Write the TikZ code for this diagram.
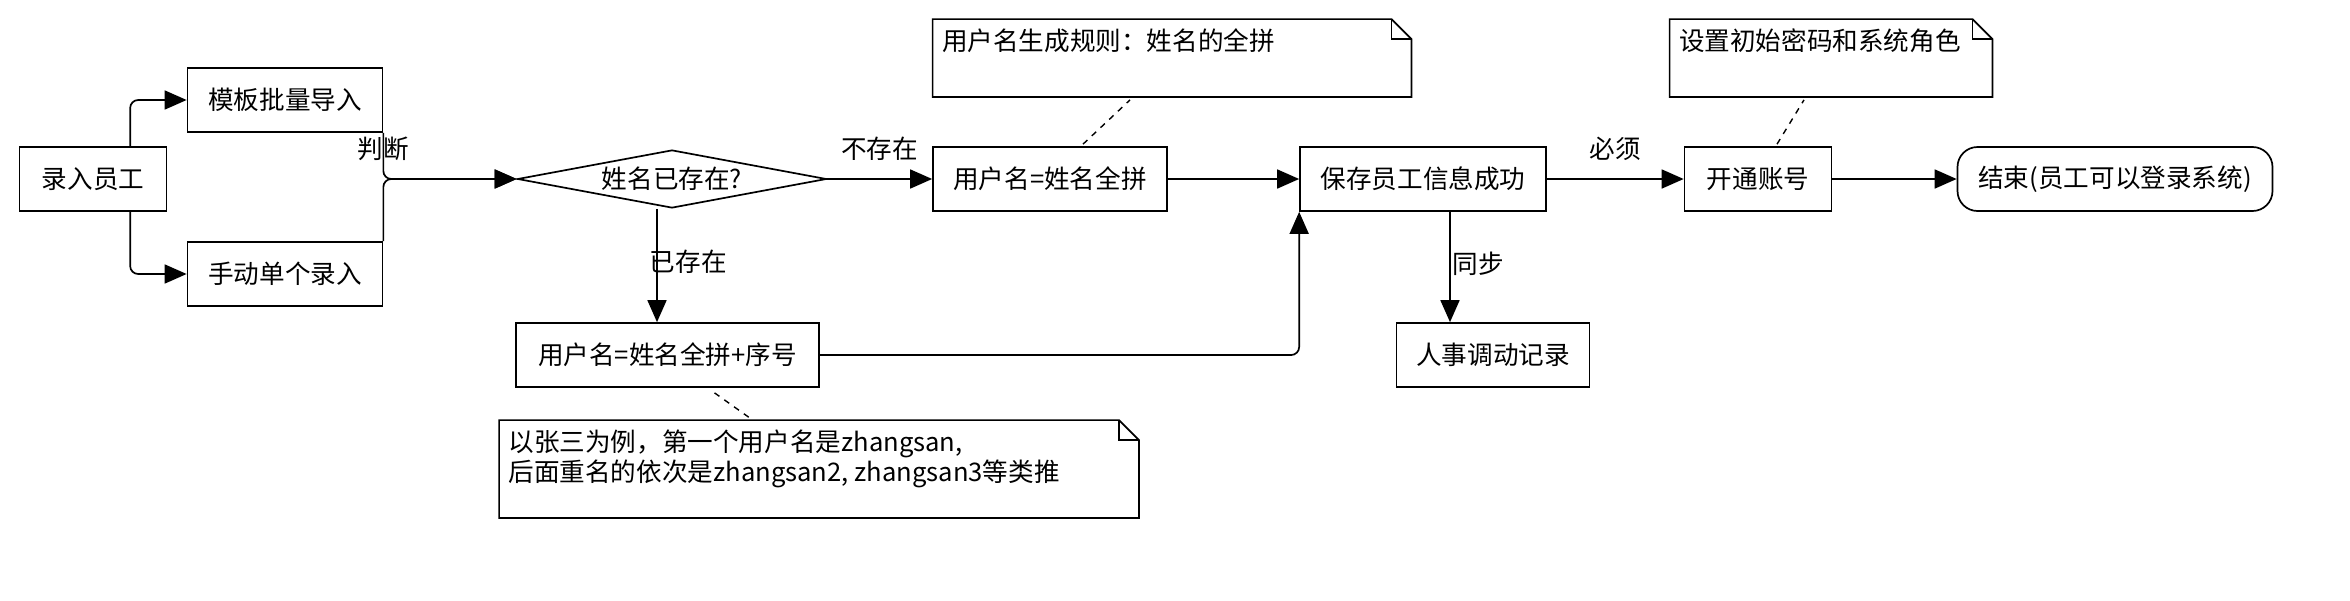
\documentclass[tikz,border=0pt]{standalone}
\usepackage{fontspec}
\newfontfamily\cjk{Noto Sans CJK SC}
\usetikzlibrary{positioning,shapes.geometric,arrows.meta,calc}

\tikzset{
  box/.style={draw, line width=0.85pt, minimum height=32pt, inner sep=0pt},
  flow/.style={line width=0.85pt, -{Triangle[length=11pt,width=9.5pt]}, rounded corners=4pt},
  tag/.style={inner sep=1pt},
  memo/.style={minimum height=#1, inner sep=0pt},
  link/.style={dash pattern=on 3pt off 3pt, line width=0.7pt},
}
% folded note outline round a named node
\newcommand\dogear[1]{%
  \draw[line width=0.85pt] (#1.north west) -- ([xshift=-10pt]#1.north east)
    -- ([yshift=-10pt]#1.north east) -- (#1.south east) -- (#1.south west) -- cycle;
  \draw[line width=0.85pt] ([xshift=-10pt]#1.north east) |- ([yshift=-10pt]#1.north east);}

\begin{document}
\begin{tikzpicture}[x=0.5pt,y=-0.5pt,font=\cjk\fontsize{12.8}{13}\selectfont]
\useasboundingbox (0,0) rectangle (2350,600);

\node[box, minimum width=73.5pt](entry) at (93,179) {录入员工};
\node[box, minimum width=97.5pt](batch) at (285,100) {模板批量导入};
\node[box, minimum width=97.5pt](manual) at (285,274) {手动单个录入};
\node[draw, line width=0.85pt, diamond, shape aspect=5.3, inner sep=0pt,
      minimum width=154.5pt, minimum height=29pt](check) at (672,179) {姓名已存在?};
\node[box, minimum width=117pt](plain) at (1050,179) {用户名=姓名全拼};
\node[box, minimum width=151.5pt](serial) at (667.5,355) {用户名=姓名全拼+序号};
\node[box, minimum width=123pt](save) at (1423,179) {保存员工信息成功};
\node[box, minimum width=96.5pt](hr) at (1493,355) {人事调动记录};
\node[box, minimum width=73.5pt](account) at (1758,179) {开通账号};
\node[box, minimum width=157.5pt, rounded corners=10pt](done) at (2115,179) {结束(员工可以登录系统)};

% notes
\node[memo=38.5pt, minimum width=239pt,
      label={[anchor=north west, inner sep=0pt, xshift=4.5pt, yshift=-4.5pt]north west:{用户名生成规则：姓名的全拼}}](rule) at (1172,58) {};
\node[memo=38.5pt, minimum width=161pt,
      label={[anchor=north west, inner sep=0pt, xshift=4.5pt, yshift=-4.5pt]north west:{设置初始密码和系统角色}}](pwd) at (1831,58) {};
\node[memo=48.5pt, minimum width=319.5pt,
      label={[anchor=north west, align=left, inner sep=0pt, xshift=4.5pt, yshift=-4.5pt]north west:{以张三为例，第一个用户名是zhangsan,\\后面重名的依次是zhangsan2, zhangsan3等类推}}](eg) at (819,469) {};
\dogear{rule}
\dogear{pwd}
\dogear{eg}

\draw[flow] ($(entry.north)!0.5!(entry.north east)$) |- (batch.west);
\draw[flow] ($(entry.south)!0.5!(entry.south east)$) |- (manual.west);
\draw[flow] (batch.south east) |- (check.west);
\draw[flow] (manual.north east) |- (check.west);
\node[tag, below=1pt of batch.south east](judge) {判断};

\draw[flow] (check.east) -- (plain.west) node[tag, midway, above=8pt] {不存在};
\draw[flow] ([xshift=-7.5pt]check.south) -- ([xshift=-7.5pt]check.south |- serial.north)
  node[tag, pos=0.47, anchor=west, xshift=-5pt] {已存在};
\draw[flow] (plain.east) -- (save.west);
\draw[flow] (serial.east) -| (save.south west);
\draw[flow] ([xshift=13.5pt]save.south) -- ([xshift=13.5pt]save.south |- hr.north)
  node[tag, pos=0.47, anchor=west] {同步};
\draw[flow] (save.east) -- (account.west) node[tag, midway, above=8pt] {必须};
\draw[flow] (account.east) -- (done.west);

\draw[link] ([xshift=16.5pt,yshift=1pt]plain.north) -- ([xshift=-21pt,yshift=-1.5pt]rule.south);
\draw[link] ([xshift=9.5pt,yshift=1pt]account.north) -- ([xshift=-13.5pt,yshift=-1.5pt]pwd.south);
\draw[link] ([xshift=23.5pt,yshift=-2.5pt]serial.south) -- ([xshift=-34.5pt,yshift=1pt]eg.north);
\end{tikzpicture}
\end{document}
